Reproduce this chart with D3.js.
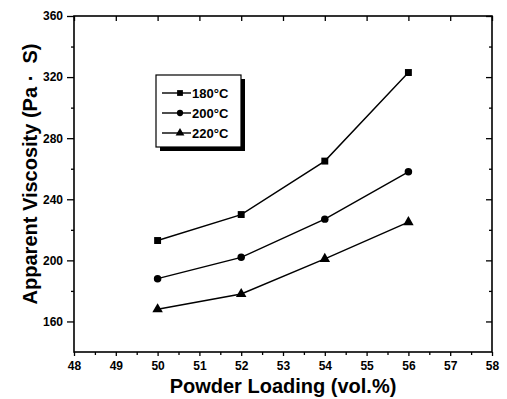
<!DOCTYPE html>
<html>
<head>
<meta charset="utf-8">
<script src="https://cdn.jsdelivr.net/npm/d3@7"></script>
<style>
  body { margin: 0; background: #fff; }
  svg text { font-family: "Liberation Sans", Arial, sans-serif; fill: #000; }
</style>
</head>
<body>
<div id="chart"></div>
<script>
// data
const loading = [50, 52, 54, 56];
const visc180 = [213, 230, 265, 323];
const visc200 = [188, 202, 227, 258];
const visc220 = [168, 178, 201, 225];
const seriesNames = ["180°C", "200°C", "220°C"];
const xTicks = [48, 49, 50, 51, 52, 53, 54, 55, 56, 57, 58];
const yTicks = [160, 200, 240, 280, 320, 360];

const width = 507, height = 399;
const margin = { top: 16, right: 15, bottom: 47, left: 74 };

const svg = d3.select("#chart").append("svg")
  .attr("width", width)
  .attr("height", height);

const x = d3.scaleLinear().domain([48, 58]).range([margin.left, width - margin.right]);
const y = d3.scaleLinear().domain([140, 360]).range([height - margin.bottom, margin.top]);

const series = [
  { name: seriesNames[0], values: visc180, symbol: d3.symbolSquare, size: 48 },
  { name: seriesNames[1], values: visc200, symbol: d3.symbolCircle, size: 44 },
  { name: seriesNames[2], values: visc220, symbol: d3.symbolTriangle, size: 48 }
];

// frame
svg.append("rect")
  .attr("x", x(48)).attr("y", y(360))
  .attr("width", x(58) - x(48)).attr("height", y(140) - y(360))
  .attr("fill", "none").attr("stroke", "#000").attr("stroke-width", 1.6);

const minorX = d3.range(48.5, 58, 1);
const minorY = [180, 220, 260, 300, 340];

// bottom axis
svg.append("g")
  .attr("transform", `translate(0,${y(140)})`)
  .call(d3.axisBottom(x).tickValues(xTicks).tickSize(4).tickPadding(5).tickFormat(d3.format("d")));
svg.append("g")
  .attr("transform", `translate(0,${y(140)})`)
  .call(d3.axisBottom(x).tickValues(minorX).tickSize(3).tickFormat(""));

// left axis
svg.append("g")
  .attr("transform", `translate(${x(48)},0)`)
  .call(d3.axisLeft(y).tickValues(yTicks).tickSize(7).tickPadding(4).tickFormat(d3.format("d")));
svg.append("g")
  .attr("transform", `translate(${x(48)},0)`)
  .call(d3.axisLeft(y).tickValues(minorY).tickSize(3).tickFormat(""));

// mirrored top / right, ticks pointing inside
svg.append("g")
  .attr("transform", `translate(0,${y(360)})`)
  .call(d3.axisBottom(x).tickValues(xTicks).tickSize(5).tickFormat(""));
svg.append("g")
  .attr("transform", `translate(${x(58)},0)`)
  .call(d3.axisLeft(y).tickValues(yTicks).tickSize(6).tickFormat(""));
svg.append("g")
  .attr("transform", `translate(${x(58)},0)`)
  .call(d3.axisLeft(y).tickValues(minorY).tickSize(3).tickFormat(""));

svg.selectAll(".domain").remove();
svg.selectAll(".tick line").attr("stroke", "#000").attr("stroke-width", 1.3);
svg.selectAll(".tick text")
  .style("font-size", "12px")
  .style("font-weight", "bold")
  .attr("fill", "#000");

// lines + markers
const line = d3.line()
  .x((d, i) => x(loading[i]))
  .y(d => y(d));

series.forEach(s => {
  svg.append("path")
    .datum(s.values)
    .attr("d", line)
    .attr("fill", "none")
    .attr("stroke", "#000")
    .attr("stroke-width", 1.4);

  svg.append("g").selectAll("path")
    .data(s.values)
    .enter().append("path")
    .attr("d", d3.symbol().type(s.symbol).size(s.size))
    .attr("transform", (d, i) => `translate(${x(loading[i])},${y(d)})`)
    .attr("fill", "#000");
});

// legend
const legend = svg.append("g").attr("transform", "translate(156,75)");
legend.append("rect")
  .attr("x", 4).attr("y", 4).attr("width", 85).attr("height", 72)
  .attr("fill", "#000");
legend.append("rect")
  .attr("x", 0).attr("y", 0).attr("width", 85).attr("height", 72)
  .attr("fill", "#fff").attr("stroke", "#000").attr("stroke-width", 1.2);

series.forEach((s, i) => {
  const ly = 18 + i * 20;
  legend.append("line")
    .attr("x1", 6).attr("x2", 35).attr("y1", ly).attr("y2", ly)
    .attr("stroke", "#000").attr("stroke-width", 1.4);
  legend.append("path")
    .attr("d", d3.symbol().type(s.symbol).size(s.size * 0.7))
    .attr("transform", `translate(24,${ly})`)
    .attr("fill", "#000");
  legend.append("text")
    .attr("x", 36).attr("y", ly + 4.5)
    .style("font-size", "13px")
    .style("font-weight", "bold")
    .text(s.name);
});

// axis titles
svg.append("text")
  .attr("x", (x(48) + x(58)) / 2)
  .attr("y", 393)
  .attr("text-anchor", "middle")
  .style("font-size", "20px")
  .style("font-weight", "bold")
  .text("Powder Loading (vol.%)");

svg.append("text")
  .attr("transform", "translate(37,174) rotate(-90)")
  .attr("text-anchor", "middle")
  .style("font-size", "20px")
  .style("font-weight", "bold")
  .style("white-space", "pre")
  .text("Apparent Viscosity (Pa ·  S)");
</script>
</body>
</html>
